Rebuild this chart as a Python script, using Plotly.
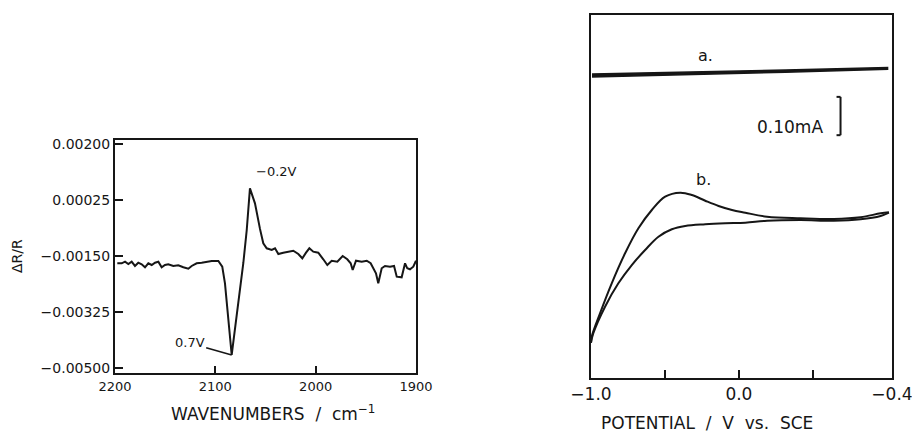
import plotly.graph_objects as go

W, H = 912, 434

# ---------------- Left panel: IR difference spectrum ----------------
wavenumber = [2197.7, 2193.3, 2190.0, 2186.7, 2183.4, 2180.1, 2176.8, 2173.4, 2170.1, 2166.8,
              2163.4, 2160.1, 2156.8, 2153.5, 2150.2, 2146.9, 2141.9, 2136.9, 2131.9, 2126.9,
              2123.6, 2118.6, 2113.6, 2108.6, 2103.6, 2097.0, 2093.1, 2090.4, 2087.1, 2083.7,
              2072.1, 2068.7, 2065.5, 2060.5, 2055.5, 2052.2, 2048.8, 2043.8, 2040.5, 2037.2,
              2032.3, 2027.3, 2022.3, 2017.3, 2013.3, 2009.6, 2006.3, 2002.4, 1997.4, 1992.4,
              1988.4, 1984.0, 1978.4, 1973.1, 1968.5, 1965.1, 1963.1, 1959.8, 1954.1, 1949.1,
              1945.2, 1939.9, 1937.6, 1934.2, 1930.9, 1925.9, 1921.9, 1919.2, 1914.3, 1910.9,
              1908.7, 1906.0, 1902.7, 1900.0]
dR_R = [-0.001723, -0.001723, -0.001673, -0.001745, -0.001673, -0.001807, -0.001704, -0.001754, -0.001848, -0.001723,
        -0.001776, -0.001704, -0.001673, -0.001848, -0.001776, -0.001754, -0.001807, -0.001786, -0.001848, -0.001892,
        -0.001807, -0.001723, -0.001704, -0.001673, -0.001651, -0.001651, -0.001829, -0.002347, -0.003390, -0.004585,
        -0.001714, -0.000684, 0.000617, 0.000149, -0.000650, -0.001099, -0.001255, -0.001308, -0.001255, -0.001433,
        -0.001392, -0.001361, -0.001330, -0.001433, -0.001567, -0.001392, -0.001255, -0.001361, -0.001392, -0.001598,
        -0.001776, -0.001642, -0.001673, -0.001495, -0.001598, -0.001723, -0.001932, -0.001642, -0.001673, -0.001642,
        -0.001723, -0.002035, -0.002347, -0.001879, -0.001807, -0.001829, -0.001807, -0.002141, -0.002160, -0.001723,
        -0.001879, -0.001910, -0.001829, -0.001642]
ir_xticks = [2200, 2100, 2000, 1900]
ir_xticktext = ["2200", "2100", "2000", "1900"]
ir_yticks = [0.002, 0.00025, -0.0015, -0.00325, -0.005]
ir_yticktext = ["0.00200", "0.00025", "\u22120.00150", "\u22120.00325", "\u22120.00500"]

# ---------------- Right panel: cyclic voltammograms ----------------
# curve a (thin loop): forward and reverse branch
a_fwd_V = [-0.9932, -0.397, 0.3144, 1.0054]
a_fwd_I = [0.7937, 0.7977, 0.8042, 0.8107]
a_rev_V = [1.0054, 0.3144, -0.397, -0.9932]
a_rev_I = [0.8060, 0.7985, 0.7915, 0.7860]
# curve b: anodic (upper) and cathodic (lower) branch
b_up_V = [-1.0, -0.9953, -0.939, -0.8598, -0.7696, -0.6795, -0.5888, -0.4986, -0.3970, -0.3178,
          -0.2276, -0.1375, -0.0467, 0.0434, 0.1904, 0.4160, 0.6416, 0.8225, 0.9580, 1.0142]
b_up_I = [0.092, 0.1078, 0.1689, 0.2473, 0.3256, 0.3909, 0.4386, 0.4734, 0.4838, 0.4778,
          0.4629, 0.4491, 0.4386, 0.4316, 0.4211, 0.4170, 0.4151, 0.4196, 0.4300, 0.4326]
b_dn_V = [1.0142, 0.9580, 0.8225, 0.6416, 0.4160, 0.1904, 0.0434, -0.0921, -0.2276, -0.3631,
          -0.4533, -0.5440, -0.6341, -0.7243, -0.8150, -0.9051, -0.9844, -1.0]
b_dn_I = [0.4316, 0.4230, 0.4144, 0.4107, 0.4125, 0.4107, 0.4055, 0.4039, 0.4013, 0.3969,
          0.3883, 0.3689, 0.3342, 0.2950, 0.2473, 0.1862, 0.1167, 0.092]
cv_xticks = [-1.0, 0.0, 1.035]
cv_xticktext = ["\u22121.0", "0.0", "\u22120.4"]
cv_minor_ticks = [-0.5, 0.0, 0.5]
scale_bar_mA = 0.10

INK = "#161616"
FONT = "DejaVu Sans"

def px(x):
    return x / W

def py(y):
    return 1 - y / H

fig = go.Figure()

fig.add_trace(go.Scatter(x=wavenumber, y=dR_R, mode="lines",
                         line=dict(color=INK, width=2), xaxis="x", yaxis="y",
                         showlegend=False, hoverinfo="skip"))

fig.add_trace(go.Scatter(x=a_fwd_V + a_rev_V, y=a_fwd_I + a_rev_I, mode="lines",
                         fill="toself", fillcolor=INK,
                         line=dict(color=INK, width=1.4), xaxis="x2", yaxis="y2",
                         showlegend=False, hoverinfo="skip"))
fig.add_trace(go.Scatter(x=b_up_V, y=b_up_I, mode="lines", line=dict(color=INK, width=2, shape="spline"),
                         xaxis="x2", yaxis="y2", showlegend=False, hoverinfo="skip"))
fig.add_trace(go.Scatter(x=b_dn_V, y=b_dn_I, mode="lines", line=dict(color=INK, width=2, shape="spline"),
                         xaxis="x2", yaxis="y2", showlegend=False, hoverinfo="skip"))

axis_common = dict(showline=True, linecolor=INK, linewidth=2, mirror=True, automargin=False,
                   showgrid=False, zeroline=False, tickcolor=INK, tickwidth=1.5,
                   ticklabeloverflow="allow")

fig.update_layout(
    width=W, height=H,
    margin=dict(l=0, r=0, t=0, b=0, autoexpand=False),
    paper_bgcolor="white", plot_bgcolor="white",
    font=dict(family=FONT, color=INK),
    xaxis=dict(domain=[px(115), px(416)], range=[2200, 1900], anchor="y",
               tickvals=ir_xticks, ticktext=ir_xticktext, ticks="inside", ticklen=7,
               tickfont=dict(size=13, family=FONT, color=INK), **axis_common),
    yaxis=dict(domain=[py(373), py(140)], range=[-0.005147, 0.002125], anchor="x",
               tickvals=ir_yticks, ticktext=ir_yticktext, ticks="inside", ticklen=8,
               tickfont=dict(size=14, family=FONT, color=INK), **axis_common),
    xaxis2=dict(domain=[px(591), px(892)], range=[-1.0, 1.035], anchor="y2",
                tickvals=cv_xticks, ticktext=cv_xticktext, ticks="", ticklen=8,
                minor=dict(tickvals=cv_minor_ticks, ticks="inside", ticklen=8,
                           tickwidth=1.5, tickcolor=INK, showgrid=False),
                tickfont=dict(size=17, family=FONT, color=INK), **axis_common),
    yaxis2=dict(domain=[py(378), py(15)], range=[0, 0.9478], anchor="x2", automargin=False,
                showticklabels=False, showline=True, linecolor=INK, linewidth=2, mirror=True,
                showgrid=False, zeroline=False, ticks=""),
)

# scale bar (0.10 mA) on right panel
bar_x, bar_x0, bar_y0 = 0.687, 0.660, 0.634
fig.add_shape(type="line", xref="x2", yref="y2", x0=bar_x, x1=bar_x, y0=bar_y0, y1=bar_y0 + scale_bar_mA,
              line=dict(color=INK, width=2))
fig.add_shape(type="line", xref="x2", yref="y2", x0=bar_x0, x1=bar_x, y0=bar_y0, y1=bar_y0,
              line=dict(color=INK, width=2))
fig.add_shape(type="line", xref="x2", yref="y2", x0=bar_x0, x1=bar_x, y0=bar_y0 + scale_bar_mA,
              y1=bar_y0 + scale_bar_mA, line=dict(color=INK, width=2))

C = dict(xanchor="center", yanchor="middle")
ann = []
# left panel labels
imin = dR_R.index(min(dR_R))
ann.append(dict(x=wavenumber[imin], y=dR_R[imin], xref="x", yref="y", text="0.7V",
                showarrow=True, arrowhead=0, arrowwidth=1.6, arrowcolor=INK, standoff=0,
                ax=-42, ay=-12, font=dict(size=13, family=FONT, color=INK)))
ann.append(dict(x=2038.8, y=0.00114, xref="x", yref="y", text="\u22120.2V", showarrow=False,
                font=dict(size=13, family=FONT, color=INK), **C))
ann.append(dict(x=px(273), y=py(413), xref="paper", yref="paper", text="WAVENUMBERS  /  cm<sup>\u22121</sup>",
                showarrow=False, font=dict(size=17, family=FONT, color=INK), **C))
ann.append(dict(x=px(17), y=py(256), xref="paper", yref="paper", text="\u0394R/R", textangle=-90,
                showarrow=False, font=dict(size=14, family=FONT, color=INK), **C))
# right panel labels
ann.append(dict(x=-0.2276, y=0.843, xref="x2", yref="y2", text="a.", showarrow=False,
                font=dict(size=16, family=FONT, color=INK), **C))
ann.append(dict(x=-0.2392, y=0.519, xref="x2", yref="y2", text="b.", showarrow=False,
                font=dict(size=16, family=FONT, color=INK), **C))
ann.append(dict(x=0.348, y=0.656, xref="x2", yref="y2", text="0.10mA", showarrow=False,
                font=dict(size=17, family=FONT, color=INK), **C))
ann.append(dict(x=px(707), y=py(423), xref="paper", yref="paper", text="POTENTIAL  /  V  vs.  SCE",
                showarrow=False, font=dict(size=17, family=FONT, color=INK), **C))
fig.update_layout(annotations=ann)

fig.write_html("out.html")
